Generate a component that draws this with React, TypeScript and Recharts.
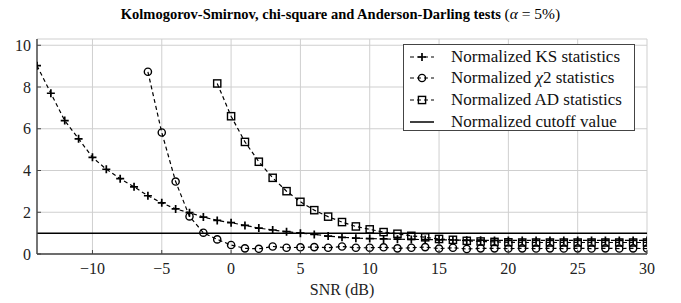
import React from "react";
import { LineChart, Line, XAxis, YAxis, CartesianGrid, ReferenceLine } from "recharts";

// SNR grid (dB)
const snr = [-14, -13, -12, -11, -10, -9, -8, -7, -6, -5, -4, -3, -2, -1, 0, 1, 2, 3, 4, 5, 6, 7, 8, 9, 10,
  11, 12, 13, 14, 15, 16, 17, 18, 19, 20, 21, 22, 23, 24, 25, 26, 27, 28, 29, 30];

const ksStat = [9.02, 7.7, 6.39, 5.52, 4.63, 4.06, 3.61, 3.22, 2.79, 2.45, 2.16, 1.98, 1.77, 1.61, 1.5, 1.37, 1.24, 1.15, 1.07, 1.0,
  0.94, 0.86, 0.8, 0.76, 0.74, 0.72, 0.71, 0.7, 0.69, 0.68, 0.67, 0.66, 0.66, 0.65, 0.65, 0.65, 0.65, 0.65, 0.65, 0.65,
  0.65, 0.65, 0.65, 0.65, 0.65];

const chi2Stat = [null, null, null, null, null, null, null, null, 8.73, 5.82, 3.47, 1.8, 1.02, 0.7, 0.43, 0.27, 0.25, 0.36, 0.3, 0.32,
  0.33, 0.3, 0.36, 0.3, 0.3, 0.32, 0.27, 0.3, 0.33, 0.26, 0.3, 0.24, 0.27, 0.27, 0.26, 0.27, 0.26, 0.27, 0.26, 0.27,
  0.26, 0.27, 0.26, 0.27, 0.26];

const adStat = [null, null, null, null, null, null, null, null, null, null, null, null, null, 8.17, 6.6, 5.37, 4.42, 3.65, 3.01, 2.5,
  2.1, 1.79, 1.53, 1.32, 1.18, 1.05, 0.97, 0.87, 0.8, 0.72, 0.68, 0.63, 0.6, 0.58, 0.56, 0.55, 0.55, 0.55, 0.55, 0.55,
  0.55, 0.55, 0.55, 0.55, 0.55];

const cutoff = 1;
const xTicks = [-10, -5, 0, 5, 10, 15, 20, 25, 30];
const yTicks = [0, 2, 4, 6, 8, 10];

const data = snr.map((s, i) => ({ snr: s, ks: ksStat[i], chi2: chi2Stat[i], ad: adStat[i] }));

const serif = "Liberation Serif, Times New Roman, DejaVu Serif, serif";
const frame = "#444";

const fmt = (v: number) => (v < 0 ? "\u2212" + Math.abs(v) : String(v));

const PlusMark = ({ cx, cy }: { cx: number; cy: number }) => (
  <path d={`M${cx - 4},${cy}h8M${cx},${cy - 4}v8`} stroke="#000" strokeWidth={1.7} fill="none" />
);
const CircleMark = ({ cx, cy }: { cx: number; cy: number }) => (
  <circle cx={cx} cy={cy} r={3.6} stroke="#000" strokeWidth={1.4} fill="none" />
);
const SquareMark = ({ cx, cy }: { cx: number; cy: number }) => (
  <rect x={cx - 3.6} y={cy - 3.6} width={7.2} height={7.2} stroke="#000" strokeWidth={1.4} fill="none" />
);

const dot = (Mark: any) => (p: any) => {
  if (p.value == null || p.cx == null || p.cy == null) return <g key={p.index} />;
  return <Mark key={p.index} cx={p.cx} cy={p.cy} />;
};

const YTick = ({ x, y, payload }: any) => (
  <g>
    <text x={x} y={y} dy="0.35em" textAnchor="end" fontFamily={serif} fontSize={16} fill="#222">{fmt(payload.value)}</text>
    <line x1={x + 6} x2={x + 10} y1={y} y2={y} stroke={frame} strokeWidth={1} />
  </g>
);
const XTick = ({ x, y, payload }: any) => (
  <g>
    <text x={x} y={y} dy="0.72em" textAnchor="middle" fontFamily={serif} fontSize={16} fill="#222">{fmt(payload.value)}</text>
    <line x1={x} x2={x} y1={y - 8} y2={y - 12} stroke={frame} strokeWidth={1} />
  </g>
);
const RightTick = ({ x, y }: any) => <line x1={x} x2={x - 4} y1={y} y2={y} stroke={frame} strokeWidth={1} />;
const TopTick = ({ x, y }: any) => <line x1={x} x2={x} y1={y} y2={y + 4} stroke={frame} strokeWidth={1} />;

const legendRows = [
  { label: "Normalized KS statistics", Mark: PlusMark, dashed: true },
  { label: <>Normalized <i>χ</i>2 statistics</>, Mark: CircleMark, dashed: true },
  { label: "Normalized AD statistics", Mark: SquareMark, dashed: true },
  { label: "Normalized cutoff value", Mark: null, dashed: false },
];

export default function App() {
  return (
    <div style={{ position: "absolute", left: 0, top: 0, width: 681, height: 303, background: "#fff" }}>
      <div style={{ position: "absolute", top: 5, left: 0, width: 681, textAlign: "center", fontFamily: serif, fontWeight: "bold", fontSize: 14.5, color: "#000" }}>
        Kolmogorov-Smirnov, chi-square and Anderson-Darling tests <span style={{ fontWeight: "normal", fontSize: 15.5 }}>(<i>α</i> = 5%)</span>
      </div>
      <LineChart width={681} height={303} data={data} margin={{ top: 39, right: 34, bottom: 0, left: 0 }}>
        <CartesianGrid stroke="#cfcfcf" strokeWidth={1} />
        <XAxis dataKey="snr" type="number" domain={[-14, 30]} ticks={xTicks} allowDataOverflow
          height={49} tickSize={0} tickMargin={8} tick={<XTick />} axisLine={{ stroke: frame, strokeWidth: 1.4 }}
          label={{ value: "SNR (dB)", position: "insideBottom", offset: 8, fontFamily: serif, fontSize: 16, fill: "#222" }} />
        <XAxis xAxisId="top" orientation="top" type="number" domain={[-14, 30]} ticks={xTicks} allowDataOverflow
          height={0} tickSize={0} tickMargin={0} tick={<TopTick />} axisLine={{ stroke: frame, strokeWidth: 1.4 }} />
        <YAxis type="number" domain={[0, 10.3]} ticks={yTicks} allowDataOverflow width={37} tickSize={0} tickMargin={6}
          tick={<YTick />} axisLine={{ stroke: frame, strokeWidth: 1.4 }} />
        <YAxis yAxisId="right" orientation="right" type="number" domain={[0, 10.3]} ticks={yTicks} allowDataOverflow
          width={0} tickSize={0} tickMargin={0} tick={<RightTick />} axisLine={{ stroke: frame, strokeWidth: 1.4 }} />
        <ReferenceLine y={cutoff} stroke="#000" strokeWidth={1.5} />
        <Line dataKey="ks" stroke="#000" strokeWidth={1.2} strokeDasharray="4 3" dot={dot(PlusMark)} activeDot={false} isAnimationActive={false} />
        <Line dataKey="chi2" stroke="#000" strokeWidth={1.2} strokeDasharray="4 3" dot={dot(CircleMark)} activeDot={false} isAnimationActive={false} />
        <Line dataKey="ad" stroke="#000" strokeWidth={1.2} strokeDasharray="4 3" dot={dot(SquareMark)} activeDot={false} isAnimationActive={false} />
      </LineChart>
      <div style={{ position: "absolute", left: 403, top: 44, width: 230, height: 85, border: `1px solid ${frame}`, background: "#fff" }}>
        {legendRows.map((r, i) => (
          <div key={i} style={{ position: "absolute", left: 0, top: 1 + i * 21.8, height: 21, display: "flex", alignItems: "center" }}>
            <svg width={40} height={14} style={{ marginLeft: 5 }}>
              <line x1={1} x2={25} y1={7} y2={7} stroke="#000" strokeWidth={r.dashed ? 1.2 : 1.5} strokeDasharray={r.dashed ? "4 3" : undefined} />
              {r.Mark && <r.Mark cx={13} cy={7} />}
            </svg>
            <span style={{ marginLeft: 2, fontFamily: serif, fontSize: 17, color: "#111", whiteSpace: "nowrap" }}>{r.label}</span>
          </div>
        ))}
      </div>
    </div>
  );
}
